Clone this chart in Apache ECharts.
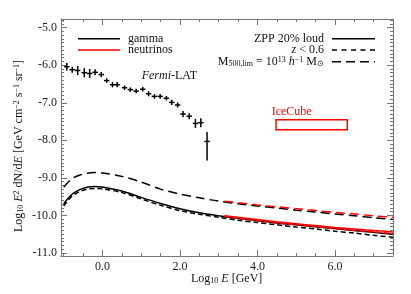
<!DOCTYPE html>
<html><head><meta charset="utf-8">
<script src="https://cdn.jsdelivr.net/npm/echarts@6/dist/echarts.min.js"></script>
<style>html,body{margin:0;padding:0;background:#fff}#c{width:411px;height:294px}</style>
</head><body><div id="c"></div>
<script>
// ---- data ----
const xTickMajor = [0, 2, 4, 6];
const yTickMajor = [-11, -10, -9, -8, -7, -6, -5];
const xMinorTicks = [-1,-0.5,0,0.5,1,1.5,2,2.5,3,3.5,4,4.5,5,5.5,6,6.5,7,7.5];
const yMinorTicks = [];
for (let k = -110; k <= -48; k++) yMinorTicks.push(k / 10);

const fermiX = [-0.92,-0.78,-0.64,-0.47,-0.33,-0.19,-0.03,0.11,0.26,0.38,0.57,0.72,0.87,1.04,1.19,1.34,1.49,1.65,1.79,1.94,2.08,2.24,2.40,2.54,2.70];
const fermiY = [-6.04,-6.12,-6.14,-6.20,-6.22,-6.19,-6.25,-6.41,-6.52,-6.52,-6.60,-6.65,-6.69,-6.64,-6.76,-6.83,-6.83,-6.88,-6.99,-7.06,-7.30,-7.36,-7.55,-7.53,-8.03];
const fermiYUp = [0.10,0.08,0.12,0.12,0.12,0.08,0.07,0.06,0.07,0.07,0.06,0.06,0.06,0.06,0.07,0.06,0.06,0.06,0.07,0.07,0.08,0.08,0.12,0.12,0.25];
const fermiYDown = [0.10,0.08,0.12,0.12,0.12,0.08,0.07,0.06,0.07,0.07,0.06,0.06,0.06,0.06,0.07,0.06,0.06,0.06,0.07,0.07,0.08,0.08,0.12,0.12,0.51];
const fermiXErr = 0.07;

const curveX = [-1.0,-0.8,-0.6,-0.4,-0.2,0,0.5,1.0,1.5,2.0,2.5,3.0,3.5,4.0,4.5,5.0,5.5,6.0,6.5,7.0,7.5];
const gammaSolid = [-9.69,-9.45,-9.32,-9.25,-9.23,-9.24,-9.35,-9.52,-9.68,-9.82,-9.93,-10.01,-10.08,-10.14,-10.20,-10.25,-10.30,-10.35,-10.40,-10.45,-10.50];
const gammaShort = [-9.75,-9.50,-9.37,-9.30,-9.28,-9.29,-9.39,-9.56,-9.73,-9.87,-9.97,-10.05,-10.13,-10.19,-10.25,-10.31,-10.36,-10.42,-10.47,-10.53,-10.58];
const gammaLong = [-9.25,-9.03,-8.93,-8.88,-8.86,-8.87,-8.96,-9.11,-9.30,-9.43,-9.53,-9.62,-9.69,-9.75,-9.80,-9.86,-9.91,-9.96,-10.01,-10.06,-10.11];

const nuX = [3.15,3.5,4.0,4.5,5.0,5.5,6.0,6.5,7.0,7.5];
const nuSolid = [-10.00,-10.05,-10.11,-10.17,-10.22,-10.27,-10.32,-10.36,-10.40,-10.44];
const nuShort = [-10.03,-10.08,-10.14,-10.20,-10.25,-10.30,-10.35,-10.40,-10.44,-10.48];
const nuLong = [-9.62,-9.66,-9.72,-9.77,-9.82,-9.87,-9.92,-9.96,-10.01,-10.05];

const iceCubeX = [4.48, 6.32];
const iceCubeY = [-7.72, -7.45];

// ---- chart ----
const FONT = 'Liberation Serif';
const X_MIN = -1.07, X_MAX = 7.5, Y_MIN = -11.08, Y_MAX = -4.77;
const frame = '#777';
function xa(pos, ticks, len, labels, line) {
  return { type:'value', min:X_MIN, max:X_MAX, position:pos,
    axisLine:{show:line, onZero:false, lineStyle:{color:frame, width:1}},
    axisTick:{show:true, inside:true, length:len, customValues:ticks, lineStyle:{color:frame, width:1}},
    axisLabel:{show:labels, customValues:xTickMajor, formatter:v=>v.toFixed(1), fontFamily:FONT, fontSize:12, color:'#222', margin:5},
    splitLine:{show:false} };
}
function ya(pos, ticks, len, labels, line) {
  return { type:'value', min:Y_MIN, max:Y_MAX, position:pos,
    axisLine:{show:line, onZero:false, lineStyle:{color:frame, width:1}},
    axisTick:{show:true, inside:true, length:len, customValues:ticks, lineStyle:{color:frame, width:1}},
    axisLabel:{show:labels, customValues:yTickMajor, formatter:v=>v.toFixed(1), fontFamily:FONT, fontSize:12, color:'#222', margin:4},
    splitLine:{show:false} };
}
const zip = (xs, ys) => xs.map((x,i)=>[x, ys[i]]);
function line(xs, ys, color, dash, z) {
  return { type:'line', data:zip(xs,ys), showSymbol:false, symbol:'none', smooth:0.3, z:z,
    lineStyle:{color:color, width:1.5, type: dash ? dash : 'solid'}, animation:false };
}
const rich = {
  i:{fontFamily:FONT, fontStyle:'italic', fontSize:12},
  sup:{fontFamily:FONT, fontSize:8, verticalAlign:'top', lineHeight:8},
  sub:{fontFamily:FONT, fontSize:8, verticalAlign:'bottom', lineHeight:8}
};
function txt(x, y, text, align, color, rot) {
  return { type:'text', x:x, y:y, rotation: rot||0,
    style:{ text:text, fill:color||'#111', font:'12px "Liberation Serif"', fontFamily:FONT, fontSize:12,
      align:align||'left', verticalAlign:'middle', rich:rich } };
}
function seg(x1, x2, y, color, dash) {
  return { type:'line', shape:{x1:x1, y1:y, x2:x2, y2:y},
    style:{ stroke:color, lineWidth:1.5, lineDash: dash || null } };
}

const chart = echarts.init(document.getElementById('c'), null, {renderer:'canvas'});
chart.setOption({
  animation:false,
  backgroundColor:'#fff',
  grid:{left:61, top:19, width:332, height:237, containLabel:false},
  xAxis:[ xa('bottom', xMinorTicks, 3, true, true), xa('bottom', xTickMajor, 6, false, false),
          xa('top', xMinorTicks, 3, false, true), xa('top', xTickMajor, 6, false, false) ],
  yAxis:[ ya('left', yMinorTicks, 3, true, true), ya('left', yTickMajor, 6, false, false),
          ya('right', yMinorTicks, 3, false, true), ya('right', yTickMajor, 6, false, false) ],
  series:[
    line(curveX, gammaLong, '#000', [9,5], 2),
    line(curveX, gammaShort, '#000', [5,3], 2),
    line(curveX, gammaSolid, '#000', null, 2),
    line(nuX, nuLong, '#ff0000', [9,5], 3),
    line(nuX, nuShort, '#ff0000', [5,3], 3),
    line(nuX, nuSolid, '#ff0000', null, 3),
    { type:'custom', z:4,
      data: fermiX.map((x,i)=>[x, fermiY[i], fermiXErr, fermiYUp[i], fermiYDown[i]]),
      renderItem:(params, api)=>{
        const x=api.value(0), y=api.value(1), xe=api.value(2), yu=api.value(3), yd=api.value(4);
        const pL=api.coord([x-xe,y]), pR=api.coord([x+xe,y]), pT=api.coord([x,y+yu]), pB=api.coord([x,y-yd]);
        return {type:'group', children:[
          {type:'line', shape:{x1:pL[0],y1:pL[1],x2:pR[0],y2:pR[1]}, style:{stroke:'#000',lineWidth:1.5}},
          {type:'line', shape:{x1:pT[0],y1:pT[1],x2:pB[0],y2:pB[1]}, style:{stroke:'#000',lineWidth:1.5}}
        ]};
      } },
    { type:'custom', z:4,
      data:[[iceCubeX[0], iceCubeY[0], iceCubeX[1], iceCubeY[1]]],
      renderItem:(params, api)=>{
        const p1=api.coord([api.value(0), api.value(3)]), p2=api.coord([api.value(2), api.value(1)]);
        return {type:'group', children:[
          {type:'rect', shape:{x:p1[0], y:p1[1], width:p2[0]-p1[0], height:p2[1]-p1[1]},
            style:{fill:'none', stroke:'#ff0000', lineWidth:1.5}},
          {type:'text', x:(p1[0]+p2[0])/2 - 20, y:p1[1]-8,
            style:{text:'IceCube', fill:'#ff0000', fontFamily:FONT, fontSize:12, align:'center', verticalAlign:'middle'}}
        ]};
      } }
  ],
  graphic:[
    seg(78, 120, 38.7, '#000'),
    seg(78, 120, 50, '#ff0000'),
    txt(128, 38.5, 'gamma'),
    txt(128, 50, 'neutrinos'),
    txt(324, 38.5, 'ZPP 20% loud', 'right'),
    txt(324, 50, '{i|z} < 0.6', 'right'),
    txt(324, 61.7, 'M{sub|500,lim} = 10{sup|13} {i|h}{sup|−1} M{sub|⊙}', 'right'),
    seg(332, 375, 38.7, '#000'),
    seg(332, 375, 50, '#000', [5,4.5]),
    seg(332, 375, 61.7, '#000', [9,5]),
    txt(141.7, 76, '{i|Fermi}-LAT'),
    txt(226.7, 278.5, 'Log{sub|10} {i|E} [GeV]', 'center'),
    txt(19, 146, 'Log{sub|10} {i|E}{sup|2} dN/d{i|E} [GeV cm{sup|−2} s{sup|−1} sr{sup|−1}]', 'center', '#111', Math.PI/2)
  ]
});
</script>
</body></html>
